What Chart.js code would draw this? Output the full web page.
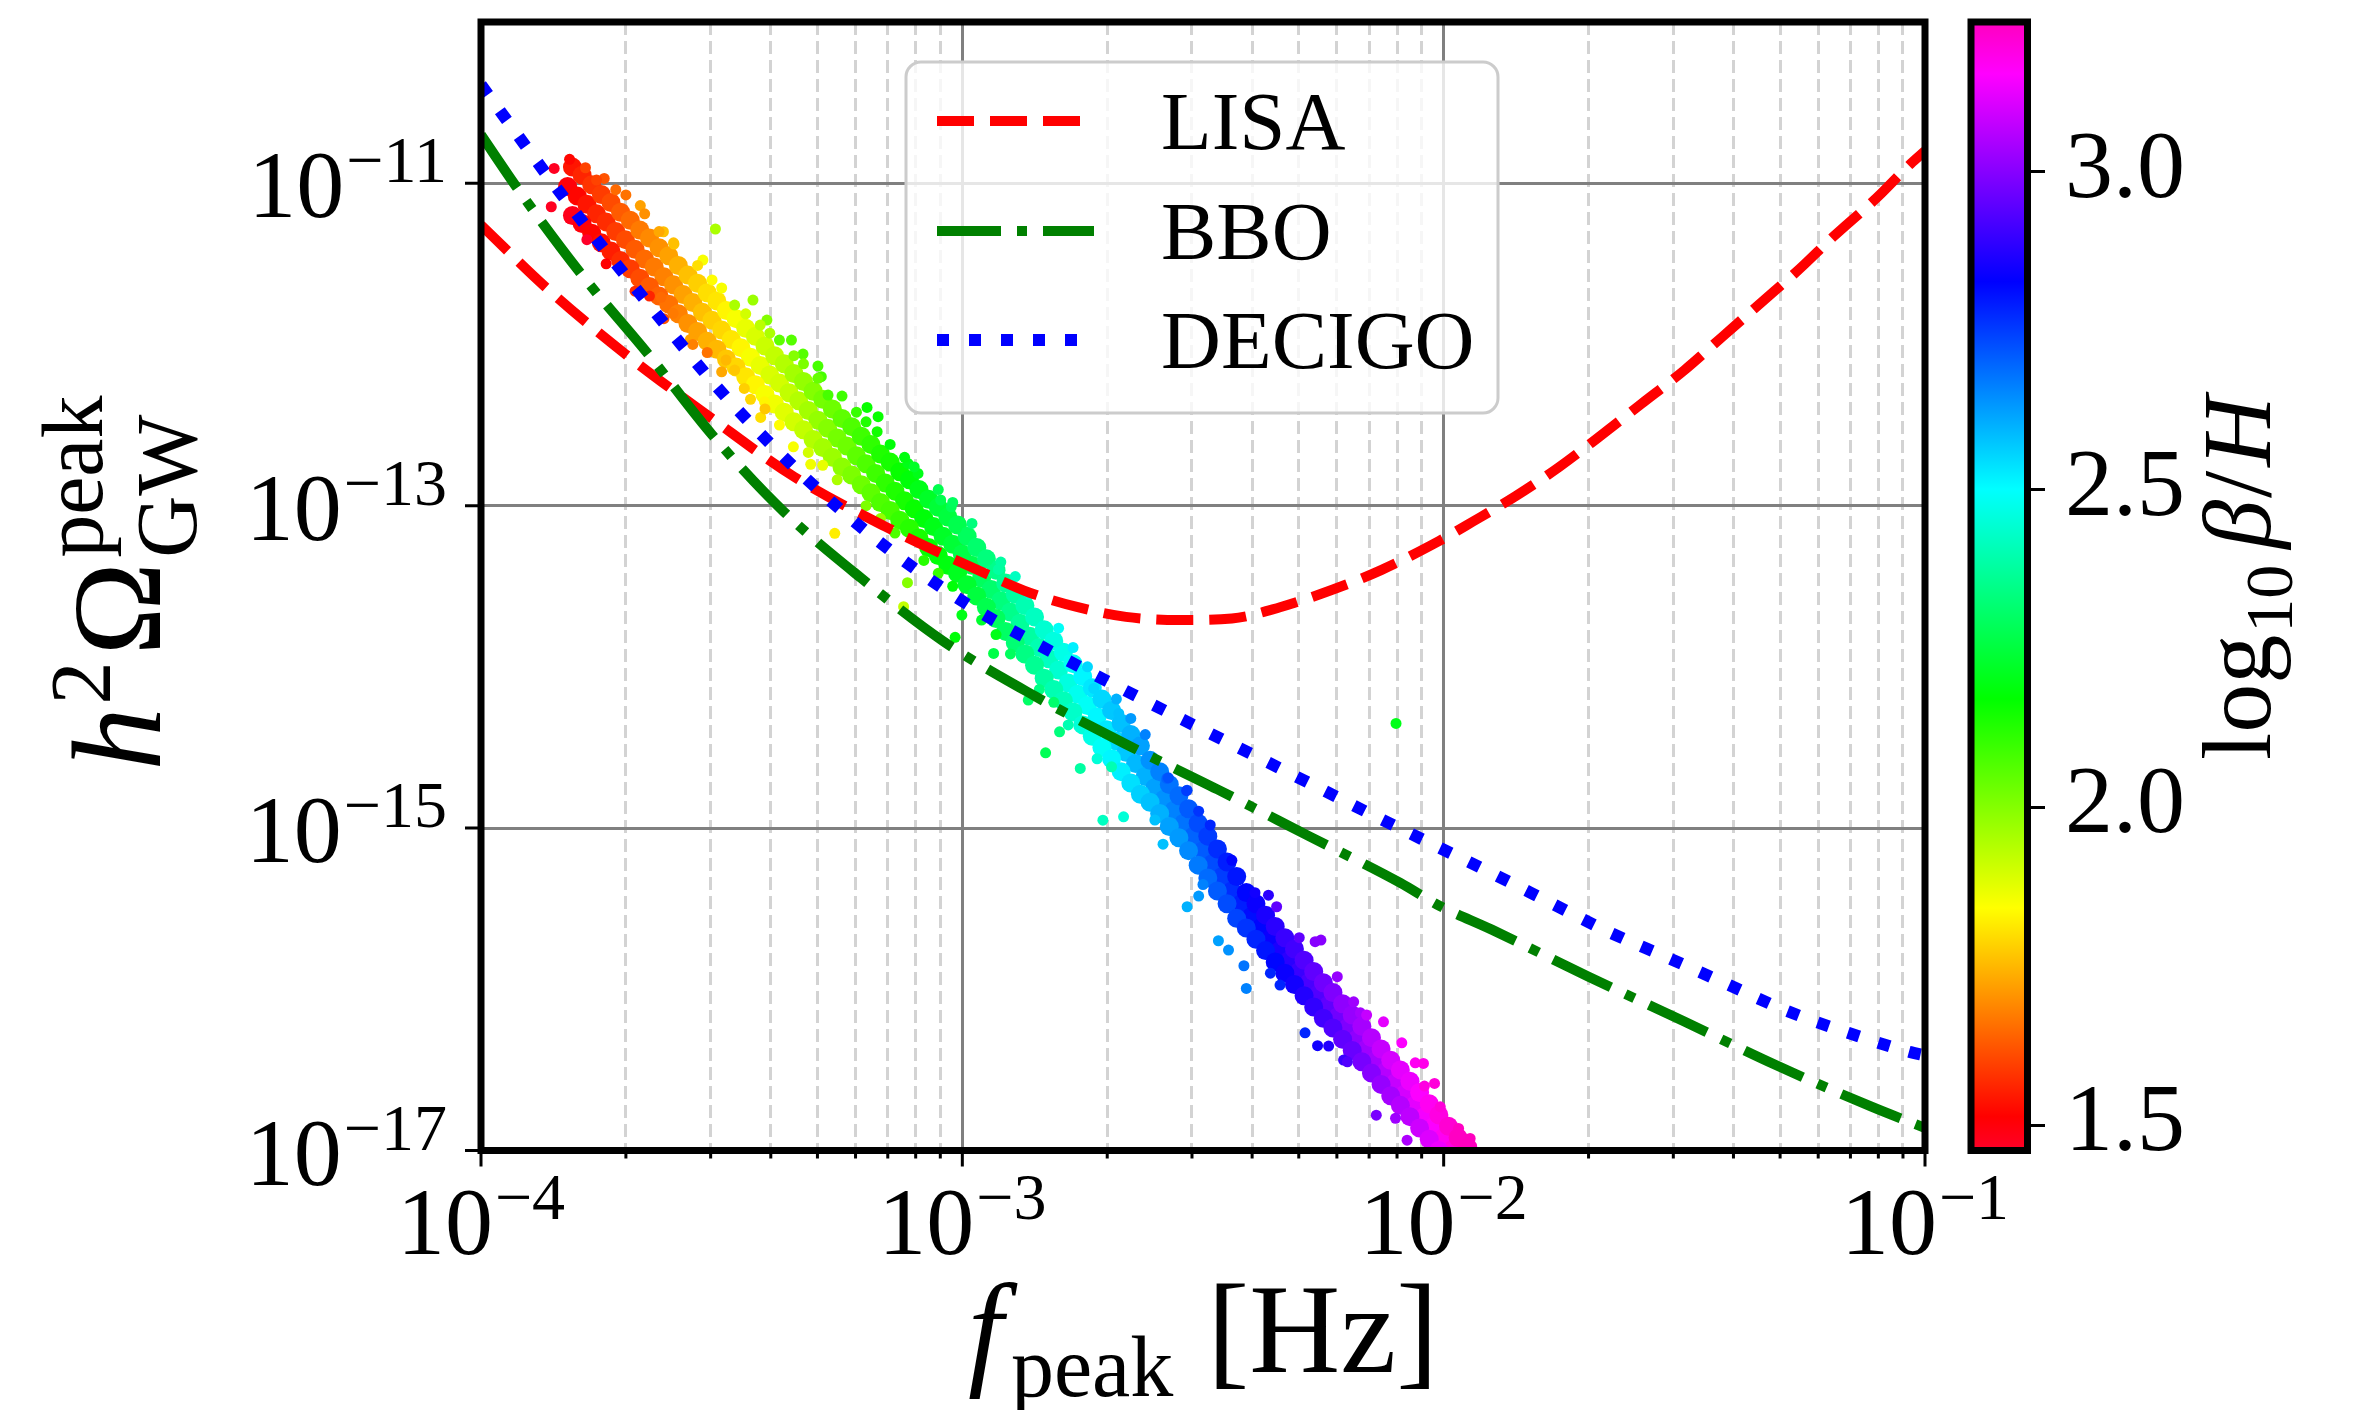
<!DOCTYPE html>
<html>
<head>
<meta charset="utf-8">
<script src="https://cdn.jsdelivr.net/npm/chart.js@4.4.1/dist/chart.umd.min.js"></script>
<style>
  html, body { margin: 0; padding: 0; background: #fff; }
  #wrap { position: relative; width: 2356px; height: 1410px; }
  #main { position: absolute; left: 0; top: 0; }
  #cbar { position: absolute; left: 1960px; top: 0; }
</style>
</head>
<body>
<div id="wrap">
  <canvas id="main" width="2356" height="1410"></canvas>
  <canvas id="cbar" width="396" height="1410"></canvas>
</div>
<script>
// all values are log10: f_peak [Hz], h^2 Omega_GW^peak, beta/H

// dense core of the scatter band (three lanes along the band)
const bandF = [
  // middle lane
  -3.82,-3.80,-3.78,-3.76,-3.74,-3.72,-3.70,-3.68,-3.66,-3.64,
  -3.62,-3.60,-3.58,-3.56,-3.54,-3.52,-3.50,-3.48,-3.46,-3.44,
  -3.42,-3.40,-3.38,-3.36,-3.34,-3.32,-3.30,-3.28,-3.26,-3.24,
  -3.22,-3.20,-3.18,-3.16,-3.14,-3.12,-3.10,-3.08,-3.06,-3.04,
  -3.02,-3.00,-2.98,-2.96,-2.94,-2.92,-2.90,-2.88,-2.86,-2.84,
  -2.82,-2.80,-2.78,-2.76,-2.74,-2.72,-2.70,-2.68,-2.66,-2.64,
  -2.62,-2.60,-2.58,-2.56,-2.54,-2.52,-2.50,-2.48,-2.46,-2.44,
  -2.42,-2.40,-2.38,-2.36,-2.34,-2.32,-2.30,-2.28,-2.26,-2.24,
  -2.22,-2.20,-2.18,-2.16,-2.14,-2.12,-2.10,-2.08,-2.06,-2.04,
  -2.02,-2.00,-1.98,
  // upper lane
  -3.81,-3.79,-3.77,-3.75,-3.73,-3.71,-3.69,-3.67,-3.65,-3.63,
  -3.61,-3.59,-3.57,-3.55,-3.53,-3.51,-3.49,-3.47,-3.45,-3.43,
  -3.41,-3.39,-3.37,-3.35,-3.33,-3.31,-3.29,-3.27,-3.25,-3.23,
  -3.21,-3.19,-3.17,-3.15,-3.13,-3.11,-3.09,-3.07,-3.05,-3.03,
  -3.01,-2.99,-2.97,-2.95,-2.93,-2.91,-2.89,-2.87,-2.85,-2.83,
  -2.81,-2.79,-2.77,-2.75,-2.73,-2.71,-2.69,-2.67,-2.65,-2.63,
  -2.61,-2.59,-2.57,-2.55,-2.53,-2.51,-2.49,-2.47,-2.45,-2.43,
  -2.41,-2.39,-2.37,-2.35,-2.33,-2.31,-2.29,-2.27,-2.25,-2.23,
  -2.21,-2.19,-2.17,-2.15,-2.13,-2.11,-2.09,-2.07,-2.05,-2.03,
  -2.01,-1.99,-1.97,-1.95,
  // lower lane
  -3.81,-3.79,-3.77,-3.75,-3.73,-3.71,-3.69,-3.67,-3.65,-3.63,
  -3.61,-3.59,-3.57,-3.55,-3.53,-3.51,-3.49,-3.47,-3.45,-3.43,
  -3.41,-3.39,-3.37,-3.35,-3.33,-3.31,-3.29,-3.27,-3.25,-3.23,
  -3.21,-3.19,-3.17,-3.15,-3.13,-3.11,-3.09,-3.07,-3.05,-3.03,
  -3.01,-2.99,-2.97,-2.95,-2.93,-2.91,-2.89,-2.87,-2.85,-2.83,
  -2.81,-2.79,-2.77,-2.75,-2.73,-2.71,-2.69,-2.67,-2.65,-2.63,
  -2.61,-2.59,-2.57,-2.55,-2.53,-2.51,-2.49,-2.47,-2.45,-2.43,
  -2.41,-2.39,-2.37,-2.35,-2.33,-2.31,-2.29,-2.27,-2.25,-2.23,
  -2.21,-2.19,-2.17,-2.15,-2.13,-2.11,-2.09,-2.07,-2.05,-2.03,
  -2.01
];
const bandOmega = [
  -11.02,-11.08,-11.13,-11.19,-11.24,-11.30,-11.35,-11.41,-11.47,-11.52,
  -11.58,-11.63,-11.69,-11.74,-11.80,-11.85,-11.91,-11.97,-12.02,-12.08,
  -12.13,-12.19,-12.24,-12.30,-12.35,-12.41,-12.47,-12.52,-12.58,-12.63,
  -12.69,-12.74,-12.80,-12.86,-12.91,-12.97,-13.02,-13.08,-13.13,-13.19,
  -13.24,-13.30,-13.37,-13.45,-13.52,-13.59,-13.66,-13.73,-13.81,-13.88,
  -13.95,-14.02,-14.10,-14.17,-14.24,-14.31,-14.39,-14.46,-14.53,-14.60,
  -14.68,-14.75,-14.82,-14.89,-14.97,-15.05,-15.14,-15.22,-15.30,-15.39,
  -15.47,-15.55,-15.62,-15.69,-15.76,-15.82,-15.89,-15.96,-16.03,-16.10,
  -16.17,-16.24,-16.31,-16.37,-16.44,-16.51,-16.58,-16.65,-16.72,-16.79,
  -16.85,-16.92,-16.99,

  -10.90,-10.95,-11.01,-11.07,-11.12,-11.18,-11.23,-11.29,-11.34,-11.40,
  -11.45,-11.51,-11.57,-11.62,-11.68,-11.73,-11.79,-11.84,-11.90,-11.95,
  -12.01,-12.07,-12.12,-12.18,-12.23,-12.29,-12.34,-12.40,-12.46,-12.51,
  -12.57,-12.62,-12.68,-12.73,-12.79,-12.84,-12.90,-12.96,-13.01,-13.07,
  -13.12,-13.19,-13.26,-13.33,-13.40,-13.48,-13.55,-13.62,-13.69,-13.77,
  -13.84,-13.91,-13.98,-14.06,-14.13,-14.20,-14.27,-14.35,-14.42,-14.49,
  -14.58,-14.65,-14.73,-14.80,-14.88,-14.97,-15.05,-15.13,-15.21,-15.30,
  -15.40,-15.47,-15.54,-15.61,-15.68,-15.75,-15.82,-15.89,-15.96,-16.02,
  -16.09,-16.16,-16.23,-16.30,-16.37,-16.44,-16.50,-16.57,-16.64,-16.71,
  -16.78,-16.85,-16.92,-16.98,

  -11.20,-11.25,-11.31,-11.37,-11.42,-11.48,-11.53,-11.59,-11.64,-11.70,
  -11.75,-11.81,-11.87,-11.92,-11.98,-12.03,-12.09,-12.14,-12.20,-12.25,
  -12.31,-12.37,-12.42,-12.48,-12.53,-12.59,-12.64,-12.70,-12.76,-12.81,
  -12.87,-12.92,-12.98,-13.03,-13.09,-13.14,-13.20,-13.26,-13.31,-13.37,
  -13.42,-13.49,-13.56,-13.63,-13.70,-13.78,-13.85,-13.92,-13.99,-14.07,
  -14.14,-14.21,-14.28,-14.36,-14.43,-14.50,-14.57,-14.65,-14.72,-14.79,
  -14.84,-14.91,-14.99,-15.06,-15.14,-15.23,-15.31,-15.39,-15.47,-15.56,
  -15.62,-15.69,-15.76,-15.83,-15.90,-15.97,-16.04,-16.11,-16.18,-16.24,
  -16.31,-16.38,-16.45,-16.52,-16.59,-16.66,-16.72,-16.79,-16.86,-16.93,
  -17.00
];
const bandBeta = [
  1.50,1.52,1.54,1.56,1.57,1.59,1.61,1.63,1.65,1.67,
  1.68,1.70,1.72,1.74,1.76,1.78,1.79,1.81,1.83,1.85,
  1.87,1.89,1.90,1.92,1.94,1.96,1.98,2.00,2.02,2.03,
  2.05,2.07,2.09,2.11,2.13,2.14,2.16,2.18,2.20,2.22,
  2.24,2.26,2.27,2.29,2.31,2.33,2.35,2.37,2.38,2.40,
  2.42,2.44,2.46,2.48,2.49,2.51,2.53,2.55,2.57,2.59,
  2.60,2.62,2.64,2.66,2.68,2.70,2.71,2.73,2.75,2.77,
  2.79,2.81,2.82,2.84,2.86,2.88,2.90,2.92,2.93,2.95,
  2.97,2.99,3.01,3.03,3.04,3.06,3.08,3.10,3.12,3.14,
  3.15,3.17,3.19,

  1.54,1.56,1.58,1.59,1.61,1.63,1.65,1.67,1.69,1.70,
  1.72,1.74,1.76,1.78,1.80,1.81,1.83,1.85,1.87,1.89,
  1.91,1.92,1.94,1.96,1.98,2.00,2.02,2.03,2.05,2.07,
  2.09,2.11,2.13,2.14,2.16,2.18,2.20,2.22,2.24,2.25,
  2.27,2.29,2.31,2.33,2.35,2.36,2.38,2.40,2.42,2.44,
  2.46,2.47,2.49,2.51,2.53,2.55,2.57,2.58,2.60,2.62,
  2.64,2.66,2.68,2.69,2.71,2.73,2.75,2.77,2.79,2.80,
  2.82,2.84,2.86,2.88,2.90,2.91,2.93,2.95,2.97,2.99,
  3.01,3.02,3.04,3.06,3.08,3.10,3.12,3.13,3.15,3.17,
  3.19,3.21,3.23,3.25,

  1.48,1.50,1.52,1.53,1.55,1.57,1.59,1.61,1.63,1.64,
  1.66,1.68,1.70,1.72,1.74,1.75,1.77,1.79,1.81,1.83,
  1.85,1.86,1.88,1.90,1.92,1.94,1.96,1.97,1.99,2.01,
  2.03,2.05,2.07,2.08,2.10,2.12,2.14,2.16,2.18,2.19,
  2.21,2.23,2.25,2.27,2.29,2.30,2.32,2.34,2.36,2.38,
  2.40,2.41,2.43,2.45,2.47,2.49,2.51,2.52,2.54,2.56,
  2.58,2.60,2.62,2.63,2.65,2.67,2.69,2.71,2.73,2.74,
  2.76,2.78,2.80,2.82,2.84,2.85,2.87,2.89,2.91,2.93,
  2.95,2.96,2.98,3.00,3.02,3.04,3.06,3.07,3.09,3.11,
  3.13
];

// loose points on the band edges and outliers
const sprayF = [
  -3.816,-3.783,-3.744,-3.848,-3.854,-3.816,-3.699,-3.669,-3.621,-3.599,
  -3.513,-3.539,-3.626,-3.601,-3.565,-3.491,-3.473,-3.453,-3.419,-3.411,
  -3.351,-3.315,-3.265,-3.473,-3.435,-3.406,-3.380,-3.355,-3.331,-3.300,
  -3.293,-3.279,-3.198,-3.175,-3.177,-3.113,-3.092,-3.045,-3.023,-3.012,
  -2.974,-2.947,-2.925,-2.852,-2.804,-2.779,-2.727,-2.675,-2.575,-2.533,
  -3.114,-3.122,-3.015,-3.001,-2.935,-2.863,-2.827,-2.798,-2.755,-2.708,
  -2.665,-2.099,-2.583,-2.533,-2.509,-2.468,-2.447,-2.415,-2.410,-2.340,
  -2.288,-2.262,-2.239,-2.208,-2.140,-2.076,-2.572,-2.534,-2.509,-2.485,
  -2.392,-2.364,-2.347,-2.267,-2.255,-2.221,-2.187,-2.173,-2.125,-2.087,
  -2.059,-2.042,-2.019,-2.007,-1.969,-1.945,
  -3.72,-3.66,-3.60,-3.55,-3.50,-3.45,-3.40,-3.35,-3.30,-3.25,
  -3.20,-3.15,-3.10,-3.05,-2.98,-2.92,-2.86,-2.80,-2.74,-2.68,-2.62,
  -3.74,-3.68,-3.62,-3.56,-3.50,-3.44,-3.38,-3.32,-3.26,-3.20,
  -3.14,-3.08,-3.02,-2.96,-2.90,-2.84,-2.78,-2.72,
  -2.60,-2.50,-2.36,-2.20,-2.10,-2.44,-2.30,-2.16,-2.04,
  -3.76,-3.63,-3.52,-3.42,-3.33,-3.22,-3.12,-3.02,-2.89,-2.77,-2.65,
  -3.78,-3.65,-3.53,-3.41,-3.29,-3.17,-3.05,-2.93,-2.81,-2.69
];
const sprayOmega = [
  -10.852,-10.904,-10.970,-10.908,-11.146,-11.218,-11.073,-11.139,-11.301,-11.377,
  -11.284,-11.477,-11.708,-11.807,-11.969,-12.097,-12.159,-12.273,-12.453,-12.356,
  -12.635,-12.744,-13.172,-11.756,-11.725,-11.849,-11.973,-11.973,-12.060,-12.134,
  -12.200,-12.314,-12.391,-12.448,-12.541,-12.738,-12.800,-12.965,-13.007,-13.141,
  -13.235,-13.338,-13.396,-13.710,-13.844,-13.958,-14.134,-14.289,-14.692,-14.765,
  -13.478,-13.627,-13.817,-13.679,-13.917,-14.206,-14.533,-14.403,-14.630,-14.951,
  -14.930,-14.351,-15.100,-15.488,-15.422,-15.699,-15.757,-15.854,-15.995,-15.974,
  -16.270,-16.350,-16.352,-16.439,-16.781,-16.936,-14.688,-14.768,-14.895,-14.981,
  -15.401,-15.416,-15.488,-15.705,-15.695,-15.922,-16.078,-16.146,-16.202,-16.332,
  -16.456,-16.460,-16.584,-16.729,-16.863,-16.925,
  -11.04,-11.19,-11.37,-11.51,-11.65,-11.81,-11.93,-12.07,-12.21,-12.32,
  -12.48,-12.62,-12.76,-12.90,-13.11,-13.35,-13.55,-13.76,-14.00,-14.20,-14.42,
  -11.50,-11.67,-11.84,-12.00,-12.17,-12.34,-12.50,-12.67,-12.84,-13.00,
  -13.17,-13.34,-13.50,-13.71,-13.92,-14.14,-14.36,-14.57,
  -14.95,-15.35,-15.90,-16.45,-16.80,-15.20,-15.68,-16.16,-16.60,
  -10.98,-11.30,-11.60,-11.88,-12.12,-12.42,-12.70,-12.98,-13.44,-13.88,-14.32,
  -11.35,-11.70,-12.05,-12.40,-12.75,-13.08,-13.42,-13.80,-14.22,-14.62
];
const sprayBeta = [
  1.52,1.60,1.62,1.47,1.47,1.48,1.66,1.72,1.76,1.77,
  1.95,1.85,1.65,1.67,1.72,1.75,1.77,1.78,1.80,1.83,
  1.85,1.86,1.82,1.95,1.97,2.00,2.05,2.06,2.06,2.08,
  2.08,2.08,2.16,2.16,2.15,2.20,2.20,2.27,2.28,2.27,
  2.31,2.33,2.38,2.42,2.46,2.48,2.55,2.58,2.70,2.72,
  2.00,1.92,2.18,2.20,2.26,2.30,2.28,2.33,2.38,2.42,
  2.45,2.20,2.58,2.60,2.63,2.62,2.64,2.68,2.66,2.78,
  2.78,2.85,2.87,2.90,2.98,3.05,2.72,2.75,2.76,2.78,
  2.85,2.88,2.95,3.00,3.00,3.02,3.03,3.04,3.12,3.15,
  3.17,3.18,3.20,3.20,3.23,3.24,
  1.65,1.70,1.76,1.80,1.85,1.90,1.95,2.00,2.04,2.09,
  2.13,2.18,2.22,2.27,2.33,2.38,2.44,2.49,2.55,2.60,2.66,
  1.51,1.57,1.62,1.68,1.73,1.79,1.84,1.90,1.95,2.01,
  2.07,2.12,2.18,2.23,2.29,2.34,2.40,2.45,
  2.58,2.66,2.78,2.93,3.03,2.82,2.95,3.08,3.19,
  1.60,1.73,1.84,1.93,2.01,2.10,2.19,2.29,2.42,2.52,2.63,
  1.46,1.56,1.66,1.77,1.87,1.98,2.10,2.20,2.31,2.40
];

// detector sensitivity curves
const lisaF     = [-4.00,-3.86,-3.70,-3.52,-3.35,-3.16,-2.96,-2.86,-2.76,-2.66,-2.55,-2.44,-2.34,-2.23,-2.13,-2.01,-1.94,-1.85,-1.76,-1.68,-1.59,-1.50,-1.42,-1.34,-1.26,-1.19,-1.10,-1.03,-1.00];
const lisaOmega = [-11.26,-11.66,-12.06,-12.46,-12.82,-13.13,-13.41,-13.54,-13.63,-13.69,-13.71,-13.70,-13.63,-13.52,-13.40,-13.22,-13.10,-12.94,-12.76,-12.58,-12.37,-12.16,-11.95,-11.74,-11.53,-11.33,-11.09,-10.88,-10.80];
const bboF      = [-4.00,-3.92,-3.79,-3.65,-3.52,-3.37,-3.21,-3.04,-2.85,-2.66,-2.47,-2.28,-2.09,-2.01,-1.90,-1.70,-1.50,-1.31,-1.11,-1.00];
const bboOmega  = [-10.70,-11.05,-11.57,-12.07,-12.56,-13.04,-13.45,-13.84,-14.18,-14.48,-14.76,-15.05,-15.34,-15.48,-15.63,-15.92,-16.20,-16.47,-16.73,-16.86];
const decigoF     = [-4.00,-3.83,-3.66,-3.49,-3.30,-3.14,-2.98,-2.80,-2.62,-2.44,-2.26,-2.14,-2.01,-1.90,-1.78,-1.66,-1.53,-1.41,-1.29,-1.16,-1.03,-1.00];
const decigoOmega = [-10.39,-11.08,-11.72,-12.33,-12.90,-13.30,-13.63,-13.93,-14.21,-14.48,-14.75,-14.93,-15.12,-15.28,-15.46,-15.64,-15.81,-15.97,-16.13,-16.27,-16.39,-16.41];

// axes
const xTickExp = [-4, -3, -2, -1];
const yTickExp = [-17, -15, -13, -11];
const cbarTicks = [1.5, 2.0, 2.5, 3.0];
const CB_MIN = 1.46, CB_MAX = 3.235;

const SERIF = '"Liberation Serif", "Times New Roman", serif';
const fontOf = (size, style = '') => `${style} ${size}px ${SERIF}`.trim();

// matplotlib gist_rainbow
const RAINBOW = [
  [0, 255, 0, 41], [0.03, 255, 0, 0], [0.215, 255, 255, 0], [0.4, 0, 255, 0],
  [0.586, 0, 255, 255], [0.77, 0, 0, 255], [0.954, 255, 0, 255], [1, 255, 0, 191]
];
function rainbow(v) {
  const t = Math.min(1, Math.max(0, (v - CB_MIN) / (CB_MAX - CB_MIN)));
  for (let i = 1; i < RAINBOW.length; i++) {
    const a = RAINBOW[i - 1], b = RAINBOW[i];
    if (t <= b[0]) {
      const s = (t - a[0]) / (b[0] - a[0]);
      const c = [1, 2, 3].map(k => Math.round(a[k] + (b[k] - a[k]) * s));
      return `rgb(${c.join(',')})`;
    }
  }
  return 'rgb(255,0,191)';
}

const toPoints = (fs, os) => fs.map((f, i) => ({x: 10 ** f, y: 10 ** os[i]}));
const isDecade = v => Math.abs(Math.log10(v) - Math.round(Math.log10(v))) < 1e-6;

// grid positions on the x axis: 1..9 per decade
const xGrid = [];
for (let e = -4; e < -1; e++) for (let k = 1; k <= 9; k++) xGrid.push(k * 10 ** e);
xGrid.push(1e-1);

// small helper for math-like labels (scripts, italics)
function layoutRun(ctx, pieces) {
  let x = 0;
  const items = pieces.map(p => {
    ctx.font = fontOf(p.size, p.style);
    const w = ctx.measureText(p.t).width;
    x += p.gap || 0;
    const it = {...p, x, w};
    if (!p.keep) x += w;
    return it;
  });
  return {items, width: Math.max(...items.map(o => o.x + o.w))};
}
function paintRun(ctx, run, x0, y0) {
  run.items.forEach(o => {
    ctx.font = fontOf(o.size, o.style);
    ctx.fillText(o.t, x0 + o.x, y0 + (o.dy || 0));
  });
}
function drawPower(ctx, exp, x, baseY, align) {
  const run = layoutRun(ctx, [
    {t: '10', size: 96},
    {t: '\u2212' + Math.abs(exp), size: 66, dy: -35, gap: 2}
  ]);
  const x0 = align === 'center' ? x - run.width / 2 : x - run.width;
  paintRun(ctx, run, x0, baseY);
}

const axesDecor = {
  id: 'axesDecor',
  afterDatasetsDraw(chart) {
    const {ctx, chartArea: a, scales: {x, y}} = chart;
    ctx.save();
    ctx.strokeStyle = '#000';
    ctx.lineWidth = 3;
    ctx.beginPath();
    xGrid.forEach(v => {
      const px = x.getPixelForValue(v);
      ctx.moveTo(px, a.bottom);
      ctx.lineTo(px, a.bottom + (isDecade(v) ? 16 : 8));
    });
    yTickExp.forEach(e => {
      const py = y.getPixelForValue(10 ** e);
      ctx.moveTo(a.left, py);
      ctx.lineTo(a.left - 16, py);
    });
    ctx.stroke();
    ctx.lineWidth = 7;
    ctx.strokeRect(a.left, a.top, a.right - a.left, a.bottom - a.top);

    ctx.fillStyle = '#000';
    ctx.textBaseline = 'alphabetic';
    ctx.textAlign = 'left';
    xTickExp.forEach(e => drawPower(ctx, e, x.getPixelForValue(10 ** e), a.bottom + 103, 'center'));
    yTickExp.forEach(e => drawPower(ctx, e, a.left - 34, y.getPixelForValue(10 ** e) + 34, 'right'));

    // x label: f_peak [Hz]
    const xr = layoutRun(ctx, [
      {t: 'f', size: 126, style: 'italic'},
      {t: 'peak', size: 86, dy: 24, gap: 8},
      {t: '[Hz]', size: 126, gap: 34}
    ]);
    paintRun(ctx, xr, (a.left + a.right) / 2 - xr.width / 2, 1372);

    // y label: h^2 Omega_GW^peak
    const yr = layoutRun(ctx, [
      {t: 'h', size: 126, style: 'italic'},
      {t: '2', size: 86, dy: -50, gap: 3},
      {t: '\u03A9', size: 126, gap: 6},
      {t: 'peak', size: 86, dy: -58, gap: 4, keep: true},
      {t: 'GW', size: 86, dy: 36}
    ]);
    ctx.translate(160, 583 + yr.width / 2);
    ctx.rotate(-Math.PI / 2);
    paintRun(ctx, yr, 0, 0);
    ctx.restore();
  },
  afterDraw(chart) {
    const ctx = chart.ctx;
    const L = {x: 906, y: 62, w: 592, h: 351, r: 15};
    ctx.save();
    ctx.beginPath();
    ctx.moveTo(L.x + L.r, L.y);
    ctx.arcTo(L.x + L.w, L.y, L.x + L.w, L.y + L.h, L.r);
    ctx.arcTo(L.x + L.w, L.y + L.h, L.x, L.y + L.h, L.r);
    ctx.arcTo(L.x, L.y + L.h, L.x, L.y, L.r);
    ctx.arcTo(L.x, L.y, L.x + L.w, L.y, L.r);
    ctx.closePath();
    ctx.fillStyle = 'rgba(255,255,255,0.8)';
    ctx.fill();
    ctx.strokeStyle = '#cccccc';
    ctx.lineWidth = 3;
    ctx.stroke();

    const rows = [121, 231, 340];
    ['LISA', 'BBO', 'DECIGO'].forEach((name, i) => {
      const ds = chart.data.datasets.find(d => d.label === name);
      ctx.strokeStyle = ds.borderColor;
      ctx.lineWidth = ds.borderWidth;
      ctx.setLineDash(ds.borderDash);
      ctx.lineCap = 'butt';
      ctx.beginPath();
      ctx.moveTo(937, rows[i]);
      ctx.lineTo(1094, rows[i]);
      ctx.stroke();
      ctx.setLineDash([]);
      ctx.fillStyle = '#000';
      ctx.font = fontOf(83);
      ctx.textAlign = 'left';
      ctx.textBaseline = 'alphabetic';
      ctx.fillText(name, 1161, rows[i] + 28);
    });
    ctx.restore();
  }
};

Chart.defaults.font.family = SERIF;

const curve = (label, fs, os, color, width, dash, order) => ({
  label, data: toPoints(fs, os), showLine: true, borderColor: color, borderWidth: width,
  borderDash: dash, pointRadius: 0, cubicInterpolationMode: 'monotone', order, clip: 0
});

new Chart(document.getElementById('main'), {
  type: 'scatter',
  data: {
    datasets: [
      curve('DECIGO', decigoF, decigoOmega, '#0000ff', 12, [12, 20], 1),
      curve('BBO', bboF, bboOmega, '#008000', 10, [64, 16, 10, 16], 2),
      curve('LISA', lisaF, lisaOmega, '#ff0000', 10, [37, 16], 3),
      {
        label: 'spread', data: toPoints(sprayF, sprayOmega),
        pointRadius: 5.5, pointBorderWidth: 0,
        pointBackgroundColor: sprayBeta.map(rainbow), order: 4, clip: 0
      },
      {
        label: 'band', data: toPoints(bandF, bandOmega),
        pointRadius: 9.5, pointBorderWidth: 0,
        pointBackgroundColor: bandBeta.map(rainbow), order: 5, clip: 0
      }
    ]
  },
  options: {
    responsive: false,
    animation: false,
    devicePixelRatio: 1,
    events: [],
    layout: {padding: {left: 481, top: 22, right: 431, bottom: 259.5}},
    plugins: {legend: {display: false}, tooltip: {enabled: false}},
    scales: {
      x: {
        type: 'logarithmic', min: 1e-4, max: 1e-1,
        afterBuildTicks: s => { s.ticks = xGrid.map(v => ({value: v})); },
        ticks: {display: false},
        grid: {
          color: c => (c.tick && !isDecade(c.tick.value)) ? '#d3d3d3' : '#808080',
          lineWidth: 3, drawTicks: false
        },
        border: {display: false, dash: c => (c.tick && !isDecade(c.tick.value)) ? [13, 6] : []}
      },
      y: {
        type: 'logarithmic', min: 1e-17, max: 1e-10,
        afterBuildTicks: s => { s.ticks = yTickExp.map(e => ({value: 10 ** e})); },
        ticks: {display: false},
        grid: {color: '#808080', lineWidth: 3, drawTicks: false},
        border: {display: false}
      }
    }
  },
  plugins: [axesDecor]
});

// colour bar
const cbarDecor = {
  id: 'cbarDecor',
  afterDatasetsDraw(chart) {
    const {ctx, chartArea: a} = chart;
    ctx.save();
    ctx.strokeStyle = '#000';
    ctx.lineWidth = 7;
    ctx.strokeRect(a.left, a.top, a.right - a.left, a.bottom - a.top);
    ctx.restore();
  },
  afterDraw(chart) {
    const ctx = chart.ctx;
    ctx.save();
    ctx.fillStyle = '#000';
    ctx.textAlign = 'left';
    ctx.textBaseline = 'alphabetic';
    const run = layoutRun(ctx, [
      {t: 'log', size: 98},
      {t: '10', size: 68, dy: 22, gap: 2},
      {t: '\u03B2', size: 98, style: 'italic', gap: 16},
      {t: '/', size: 98, gap: 2},
      {t: 'H', size: 98, style: 'italic', gap: 4}
    ]);
    ctx.translate(310, 578 + run.width / 2);
    ctx.rotate(-Math.PI / 2);
    paintRun(ctx, run, 0, 0);
    ctx.restore();
  }
};

function cbarGradient(c) {
  const chart = c.chart;
  if (!chart.chartArea) return '#fff';
  const ys = chart.scales.y;
  const g = chart.ctx.createLinearGradient(0, ys.getPixelForValue(CB_MIN), 0, ys.getPixelForValue(CB_MAX));
  RAINBOW.forEach(s => g.addColorStop(s[0], `rgb(${s[1]},${s[2]},${s[3]})`));
  return g;
}

new Chart(document.getElementById('cbar'), {
  type: 'bar',
  data: {
    labels: [''],
    datasets: [{
      data: [[CB_MIN, CB_MAX]], backgroundColor: cbarGradient, borderWidth: 0,
      barPercentage: 1, categoryPercentage: 1
    }]
  },
  options: {
    responsive: false,
    animation: false,
    devicePixelRatio: 1,
    events: [],
    layout: {padding: {left: 11, right: 0, top: 22, bottom: 259.5}},
    plugins: {legend: {display: false}, tooltip: {enabled: false}},
    scales: {
      x: {display: false},
      y: {
        position: 'right', min: CB_MIN, max: CB_MAX,
        afterBuildTicks: s => { s.ticks = cbarTicks.map(v => ({value: v})); },
        afterFit: s => { s.width = 328.5; s.paddingTop = 0; s.paddingBottom = 0; },
        ticks: {
          callback: v => Number(v).toFixed(1), color: '#000',
          font: {family: SERIF, size: 96}, padding: 20, autoSkip: false
        },
        grid: {drawOnChartArea: false, tickLength: 17.5, tickWidth: 3, tickColor: '#000'},
        border: {display: false}
      }
    }
  },
  plugins: [cbarDecor]
});
</script>
</body>
</html>
